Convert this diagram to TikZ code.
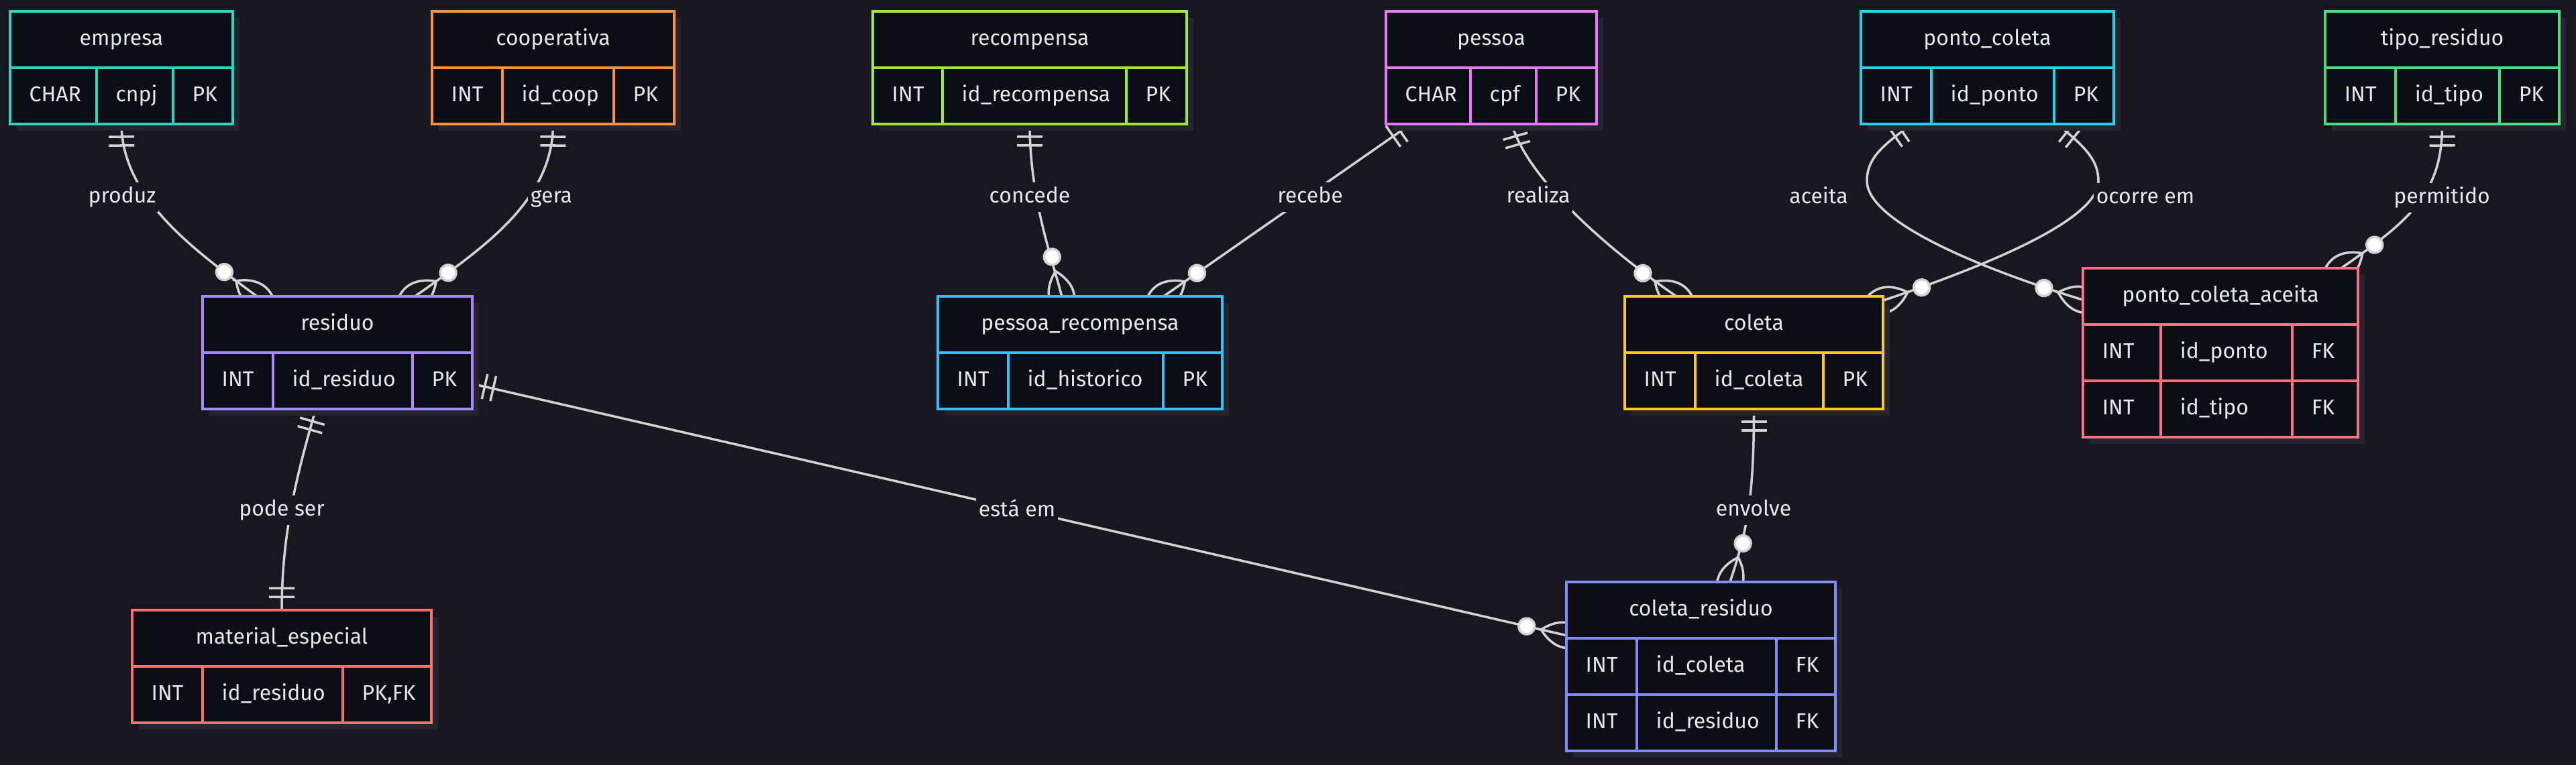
\documentclass[tikz,border=0pt]{standalone}
\usepackage{fontspec}
\setmainfont{Fira Sans}
\usepackage{tikz}
\usetikzlibrary{calc, decorations.markings, shadows}
\definecolor{canvas}{RGB}{24,23,32}
\definecolor{cardfill}{RGB}{13,13,21}
\definecolor{cardshadow}{RGB}{37,36,47}
\definecolor{relgray}{RGB}{210,210,210}
\definecolor{inkwhite}{RGB}{230,230,234}
\definecolor{tealent}{RGB}{45,212,191}
\definecolor{orangeent}{RGB}{251,146,60}
\definecolor{violetent}{RGB}{167,139,250}
\definecolor{limeent}{RGB}{163,230,53}
\definecolor{fuchsiaent}{RGB}{232,121,249}
\definecolor{skyent}{RGB}{56,189,248}
\definecolor{cyanent}{RGB}{34,211,238}
\definecolor{greenent}{RGB}{74,222,128}
\definecolor{yellowent}{RGB}{250,204,21}
\definecolor{roseent}{RGB}{251,113,133}
\definecolor{redent}{RGB}{248,113,113}
\definecolor{indigoent}{RGB}{129,140,248}
\pgfdeclarelayer{canvaslayer}
\pgfdeclarelayer{edgelayer}
\pgfsetlayers{canvaslayer,edgelayer,main}

\begin{document}
\begin{tikzpicture}[
  erbox/.style={draw=#1, fill=cardfill, line width=1.1pt, inner sep=0pt, outer sep=0pt, anchor=north west,
    drop shadow={shadow xshift=0.1cm, shadow yshift=-0.1cm, fill=cardshadow, opacity=1}},
  gridrule/.style={draw=#1, line width=1.1pt},
  enttitle/.style={text=inkwhite, font=\fontsize{9.1}{11}\selectfont, text height=0.24cm, text depth=0.07cm, inner sep=0pt},
  cell/.style={enttitle, anchor=west},
  rel/.style={draw=relgray, line width=1pt},
  relmark/.style={draw=relgray, line width=1pt},
  rellabel/.style={enttitle, fill=canvas, inner xsep=0.04cm, inner ysep=0.065cm},
  only one start/.style={postaction={decorate, decoration={markings, mark=at position 0 with {
    \draw[relmark] (0.19,-0.19) -- (0.19,0.19) (0.32,-0.19) -- (0.32,0.19);}}}},
  only one end/.style={postaction={decorate, decoration={markings, mark=at position -0.2pt with {
    \draw[relmark] (-0.19,-0.19) -- (-0.19,0.19) (-0.32,-0.19) -- (-0.32,0.19);}}}},
  zero many end/.style={postaction={decorate, decoration={markings, mark=at position -0.2pt with {
    \draw[relmark] (-0.38,0) .. controls (-0.13,0.25) and (0.13,0.25) .. (0.38,0) .. controls (0.13,-0.25) and (-0.13,-0.25) .. cycle;
    \filldraw[relmark, fill=white] (-0.6,0) circle (0.12);}}}}
]
\useasboundingbox (0,0) rectangle (38.4,-11.41);
\begin{pgfonlayer}{canvaslayer}
  \fill[canvas] (0,0) rectangle (38.4,-11.41);
\end{pgfonlayer}

\node[erbox=tealent, minimum width=3.32cm, minimum height=1.68cm] (empresa) at (0.15,-0.17) {};
\draw[gridrule=tealent] (0.15,-1.01) -- (3.47,-1.01) (1.44,-1.01) -- (1.44,-1.85) (2.58,-1.01) -- (2.58,-1.85);
\node[enttitle] (empresa-name) at (1.81,-0.59) {empresa};
\node[cell] (empresa-type) at (0.43,-1.43) {CHAR}; \node[cell] (empresa-attr) at (1.72,-1.43) {cnpj}; \node[cell] (empresa-key) at (2.86,-1.43) {PK};

\node[erbox=orangeent, minimum width=3.61cm, minimum height=1.68cm] (cooperativa) at (6.44,-0.17) {};
\draw[gridrule=orangeent] (6.44,-1.01) -- (10.05,-1.01) (7.49,-1.01) -- (7.49,-1.85) (9.15,-1.01) -- (9.15,-1.85);
\node[enttitle] (cooperativa-name) at (8.245,-0.59) {cooperativa};
\node[cell] (cooperativa-type) at (6.72,-1.43) {INT}; \node[cell] (cooperativa-attr) at (7.77,-1.43) {id\_coop}; \node[cell] (cooperativa-key) at (9.43,-1.43) {PK};

\node[erbox=limeent, minimum width=4.68cm, minimum height=1.68cm] (recompensa) at (13.01,-0.17) {};
\draw[gridrule=limeent] (13.01,-1.01) -- (17.69,-1.01) (14.05,-1.01) -- (14.05,-1.85) (16.79,-1.01) -- (16.79,-1.85);
\node[enttitle] (recompensa-name) at (15.35,-0.59) {recompensa};
\node[cell] (recompensa-type) at (13.29,-1.43) {INT}; \node[cell] (recompensa-attr) at (14.33,-1.43) {id\_recompensa}; \node[cell] (recompensa-key) at (17.07,-1.43) {PK};

\node[erbox=fuchsiaent, minimum width=3.14cm, minimum height=1.68cm] (pessoa) at (20.66,-0.17) {};
\draw[gridrule=fuchsiaent] (20.66,-1.01) -- (23.80,-1.01) (21.92,-1.01) -- (21.92,-1.85) (22.90,-1.01) -- (22.90,-1.85);
\node[enttitle] (pessoa-name) at (22.23,-0.59) {pessoa};
\node[cell] (pessoa-type) at (20.94,-1.43) {CHAR}; \node[cell] (pessoa-attr) at (22.20,-1.43) {cpf}; \node[cell] (pessoa-key) at (23.18,-1.43) {PK};

\node[erbox=cyanent, minimum width=3.77cm, minimum height=1.68cm] (ponto-coleta) at (27.74,-0.17) {};
\draw[gridrule=cyanent] (27.74,-1.01) -- (31.51,-1.01) (28.79,-1.01) -- (28.79,-1.85) (30.62,-1.01) -- (30.62,-1.85);
\node[enttitle] (ponto-coleta-name) at (29.625,-0.59) {ponto\_coleta};
\node[cell] (ponto-coleta-type) at (28.02,-1.43) {INT}; \node[cell] (ponto-coleta-attr) at (29.07,-1.43) {id\_ponto}; \node[cell] (ponto-coleta-key) at (30.90,-1.43) {PK};

\node[erbox=greenent, minimum width=3.49cm, minimum height=1.68cm] (tipo-residuo) at (34.66,-0.17) {};
\draw[gridrule=greenent] (34.66,-1.01) -- (38.15,-1.01) (35.71,-1.01) -- (35.71,-1.85) (37.26,-1.01) -- (37.26,-1.85);
\node[enttitle] (tipo-residuo-name) at (36.405,-0.59) {tipo\_residuo};
\node[cell] (tipo-residuo-type) at (34.94,-1.43) {INT}; \node[cell] (tipo-residuo-attr) at (35.99,-1.43) {id\_tipo}; \node[cell] (tipo-residuo-key) at (37.54,-1.43) {PK};

\node[erbox=violetent, minimum width=4.02cm, minimum height=1.68cm] (residuo) at (3.02,-4.42) {};
\draw[gridrule=violetent] (3.02,-5.26) -- (7.04,-5.26) (4.07,-5.26) -- (4.07,-6.10) (6.15,-5.26) -- (6.15,-6.10);
\node[enttitle] (residuo-name) at (5.03,-4.84) {residuo};
\node[cell] (residuo-type) at (3.30,-5.68) {INT}; \node[cell] (residuo-attr) at (4.35,-5.68) {id\_residuo}; \node[cell] (residuo-key) at (6.43,-5.68) {PK};

\node[erbox=skyent, minimum width=4.24cm, minimum height=1.68cm] (pessoa-recompensa) at (13.98,-4.42) {};
\draw[gridrule=skyent] (13.98,-5.26) -- (18.22,-5.26) (15.03,-5.26) -- (15.03,-6.10) (17.34,-5.26) -- (17.34,-6.10);
\node[enttitle] (pessoa-recompensa-name) at (16.10,-4.84) {pessoa\_recompensa};
\node[cell] (pessoa-recompensa-type) at (14.26,-5.68) {INT}; \node[cell] (pessoa-recompensa-attr) at (15.31,-5.68) {id\_historico}; \node[cell] (pessoa-recompensa-key) at (17.62,-5.68) {PK};

\node[erbox=yellowent, minimum width=3.85cm, minimum height=1.68cm] (coleta) at (24.22,-4.42) {};
\draw[gridrule=yellowent] (24.22,-5.26) -- (28.07,-5.26) (25.27,-5.26) -- (25.27,-6.10) (27.18,-5.26) -- (27.18,-6.10);
\node[enttitle] (coleta-name) at (26.145,-4.84) {coleta};
\node[cell] (coleta-type) at (24.50,-5.68) {INT}; \node[cell] (coleta-attr) at (25.55,-5.68) {id\_coleta}; \node[cell] (coleta-key) at (27.46,-5.68) {PK};

\node[erbox=roseent, minimum width=4.10cm, minimum height=2.52cm] (ponto-coleta-aceita) at (31.05,-4.00) {};
\draw[gridrule=roseent] (31.05,-4.84) -- (35.15,-4.84) (31.05,-5.68) -- (35.15,-5.68) (32.21,-4.84) -- (32.21,-6.52) (34.17,-4.84) -- (34.17,-6.52);
\node[enttitle] (ponto-coleta-aceita-name) at (33.10,-4.42) {ponto\_coleta\_aceita};
\node[cell] (ponto-coleta-aceita-type1) at (31.33,-5.26) {INT}; \node[cell] (ponto-coleta-aceita-attr1) at (32.49,-5.26) {id\_ponto}; \node[cell] (ponto-coleta-aceita-key1) at (34.45,-5.26) {FK};
\node[cell] (ponto-coleta-aceita-type2) at (31.33,-6.10) {INT}; \node[cell] (ponto-coleta-aceita-attr2) at (32.49,-6.10) {id\_tipo}; \node[cell] (ponto-coleta-aceita-key2) at (34.45,-6.10) {FK};

\node[erbox=redent, minimum width=4.46cm, minimum height=1.68cm] (material-especial) at (1.97,-9.10) {};
\draw[gridrule=redent] (1.97,-9.94) -- (6.43,-9.94) (3.02,-9.94) -- (3.02,-10.78) (5.11,-9.94) -- (5.11,-10.78);
\node[enttitle] (material-especial-name) at (4.20,-9.52) {material\_especial};
\node[cell] (material-especial-type) at (2.25,-10.36) {INT}; \node[cell] (material-especial-attr) at (3.30,-10.36) {id\_residuo}; \node[cell] (material-especial-key) at (5.39,-10.36) {PK,FK};

\node[erbox=indigoent, minimum width=4.01cm, minimum height=2.52cm] (coleta-residuo) at (23.35,-8.68) {};
\draw[gridrule=indigoent] (23.35,-9.52) -- (27.36,-9.52) (23.35,-10.36) -- (27.36,-10.36) (24.40,-9.52) -- (24.40,-11.20) (26.48,-9.52) -- (26.48,-11.20);
\node[enttitle] (coleta-residuo-name) at (25.355,-9.10) {coleta\_residuo};
\node[cell] (coleta-residuo-type1) at (23.63,-9.94) {INT}; \node[cell] (coleta-residuo-attr1) at (24.68,-9.94) {id\_coleta}; \node[cell] (coleta-residuo-key1) at (26.76,-9.94) {FK};
\node[cell] (coleta-residuo-type2) at (23.63,-10.78) {INT}; \node[cell] (coleta-residuo-attr2) at (24.68,-10.78) {id\_residuo}; \node[cell] (coleta-residuo-key2) at (26.76,-10.78) {FK};

\begin{pgfonlayer}{edgelayer}
  \draw[rel, only one start, zero many end] (empresa.south) .. controls (1.82,-3.00) and (3.00,-3.80) .. (residuo.145);
  \draw[rel, only one start, zero many end] (cooperativa.south) .. controls (8.24,-3.00) and (7.20,-3.70) .. (residuo.36);
  \draw[rel, only one start, zero many end] (recompensa.south) .. controls (15.35,-3.00) and (15.70,-3.90) .. (pessoa-recompensa.108);
  \draw[rel, only one start, zero many end] (pessoa.215) -- (pessoa-recompensa.34);
  \draw[rel, only one start, zero many end] (pessoa.290) .. controls (22.75,-2.60) and (23.80,-3.60) .. (coleta.144);
  \draw[rel, only one start, zero many end] (ponto-coleta.217) .. controls (28.00,-2.20) and (27.83,-2.40) .. (27.83,-2.70) .. controls (27.83,-3.30) and (29.50,-4.00) .. (ponto-coleta-aceita.159);
  \draw[rel, only one start, zero many end] (ponto-coleta.321) .. controls (31.10,-2.20) and (31.28,-2.40) .. (31.28,-2.70) .. controls (31.28,-3.30) and (29.50,-4.00) .. (coleta.22);
  \draw[rel, only one start, zero many end] (tipo-residuo.south) .. controls (36.41,-2.90) and (35.90,-3.30) .. (ponto-coleta-aceita.35);
  \draw[rel, only one start, only one end] (residuo.249) .. controls (4.45,-7.00) and (4.20,-7.90) .. (material-especial.north);
  \draw[rel, only one start, zero many end] (residuo.347) -- (coleta-residuo.167);
  \draw[rel, only one start, zero many end] (coleta.south) .. controls (26.145,-7.40) and (26.05,-7.90) .. (coleta-residuo.71);
\end{pgfonlayer}

\node[rellabel] (lbl-produz) at (1.82,-2.94) {produz};
\node[rellabel] (lbl-gera) at (8.22,-2.94) {gera};
\node[rellabel] (lbl-concede) at (15.35,-2.94) {concede};
\node[rellabel] (lbl-recebe) at (19.53,-2.94) {recebe};
\node[rellabel] (lbl-realiza) at (22.93,-2.94) {realiza};
\node[rellabel] (lbl-aceita) at (27.11,-2.95) {aceita};
\node[rellabel] (lbl-ocorre) at (31.98,-2.95) {ocorre em};
\node[rellabel] (lbl-permitido) at (36.40,-2.95) {permitido};
\node[rellabel] (lbl-podeser) at (4.20,-7.61) {pode ser};
\node[rellabel] (lbl-estaem) at (15.16,-7.62) {está em};
\node[rellabel] (lbl-envolve) at (26.14,-7.61) {envolve};
\end{tikzpicture}
\end{document}
